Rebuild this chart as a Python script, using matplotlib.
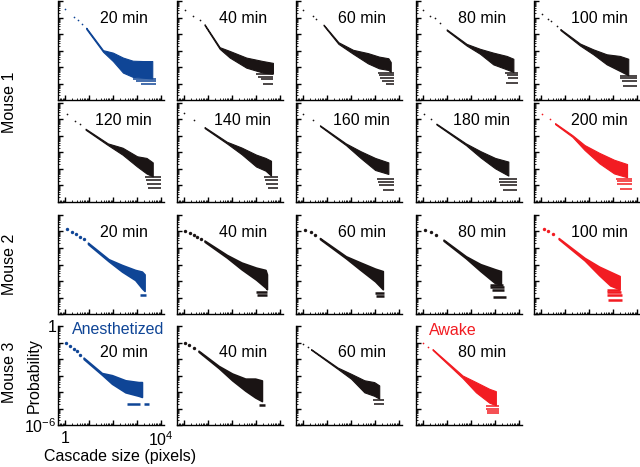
import numpy as np
import matplotlib
matplotlib.use('Agg')
import matplotlib.pyplot as plt
from matplotlib.ticker import LogLocator, FixedLocator, FuncFormatter

plt.rcParams['font.family'] = ['Liberation Sans', 'DejaVu Sans']
plt.rcParams['mathtext.fontset'] = 'custom'
plt.rcParams['mathtext.rm'] = 'Liberation Sans'

# Panels: mouse, recording time (min) and state
mouse = [1] * 10 + [2] * 5 + [3] * 4
minutes = [20, 40, 60, 80, 100, 120, 140, 160, 180, 200,
           20, 40, 60, 80, 100,
           20, 40, 60, 80]
state = ['anes'] + ['mid'] * 8 + ['awake'] + ['anes'] + ['mid'] * 3 + ['awake'] + ['anes', 'mid', 'mid', 'awake']

# Values, all in log10 units (size in pixels, probability)
# head: isolated dots at the smallest cascade sizes
head_lx = [[0.0, 0.35, 0.53, 0.71], [0.02, 0.37, 0.64], [0.01, 0.39, 0.55], [0.0, 0.28, 0.49, 0.7],
           [0.02, 0.3, 0.4, 0.64], [0.08, 0.42, 0.62], [0.01, 0.42], [0.01, 0.39], [0.05, 0.32], [0.04, 0.35],
           [0.08, 0.28, 0.45, 0.63, 0.77], [0.05, 0.26, 0.4, 0.55, 0.7], [0.08, 0.31, 0.5], [0.08, 0.32, 0.55],
           [0.12, 0.27, 0.5],
           [0.03, 0.21, 0.35, 0.49, 0.63], [0.05, 0.21, 0.39], [0.0, 0.19], [0.0, 0.19]]
head_ly = [[-0.5, -0.95, -1.17, -1.37], [-0.57, -0.91, -1.15], [-0.57, -0.92, -1.1], [-0.57, -0.91, -1.05, -1.31],
           [-0.77, -1.11, -1.2, -1.52], [-0.67, -1.08, -1.29], [-0.63, -1.04], [-0.67, -1.04], [-0.67, -1.0],
           [-0.67, -1.0],
           [-0.87, -1.01, -1.15, -1.31, -1.47], [-0.95, -1.11, -1.22, -1.33, -1.48], [-0.9, -1.04, -1.21],
           [-0.9, -1.04, -1.21], [-0.83, -1.0, -1.17],
           [-1.04, -1.21, -1.38, -1.52, -1.73], [-1.04, -1.17, -1.31], [-1.1, -1.25], [-1.04, -1.25]]

# body: dense cloud, upper and lower envelope
body_lx = [[0.88, 1.58, 1.99, 2.41, 2.82, 3.24, 3.63], [0.85, 1.48, 1.9, 2.59, 3.28, 3.7],
           [0.85, 1.47, 2.08, 2.7, 3.16, 3.55, 3.65], [0.98, 1.81, 2.37, 2.92, 3.48, 3.76],
           [0.8, 1.62, 2.17, 2.73, 3.28, 3.63], [0.85, 1.78, 2.39, 3.0, 3.39, 3.65],
           [0.85, 1.78, 2.39, 3.0, 3.39, 3.62], [0.7, 1.78, 2.39, 3.0, 3.55], [0.55, 1.78, 2.39, 3.0, 3.55],
           [0.58, 1.3, 1.81, 2.42, 3.04, 3.58],
           [0.95, 1.81, 2.37, 2.92, 3.2, 3.31], [0.85, 1.78, 2.39, 3.0, 3.39, 3.45], [0.7, 1.78, 2.39, 3.0, 3.32],
           [0.85, 1.78, 2.39, 3.0, 3.24], [0.73, 1.81, 2.42, 2.88, 3.27],
           [0.77, 1.53, 1.95, 2.51, 3.06, 3.2], [0.6, 1.44, 2.0, 2.55, 2.96, 3.24],
           [0.33, 1.44, 2.0, 2.55, 2.96, 3.17], [0.39, 1.64, 2.2, 2.76, 3.03]]
body_hi = [[-1.62, -2.98, -3.13, -3.43, -3.62, -3.64, -3.64], [-1.41, -2.8, -3.03, -3.43, -3.64, -3.75],
           [-1.43, -2.5, -2.96, -3.16, -3.37, -3.47, -3.7], [-1.72, -2.6, -2.9, -3.13, -3.33, -3.5],
           [-1.7, -2.58, -2.93, -3.23, -3.33, -3.5], [-1.56, -2.45, -2.71, -3.23, -3.33, -3.6],
           [-1.46, -2.35, -2.7, -3.13, -3.33, -3.5], [-1.35, -2.45, -2.92, -3.33, -3.6],
           [-1.25, -2.45, -2.92, -3.33, -3.55], [-1.22, -1.95, -2.55, -3.02, -3.44, -3.7],
           [-1.68, -2.68, -3.03, -3.33, -3.43, -3.6], [-1.55, -2.42, -2.88, -3.19, -3.33, -3.6],
           [-1.4, -2.5, -2.88, -3.25, -3.4], [-1.5, -2.5, -2.98, -3.29, -3.4], [-1.4, -2.6, -3.13, -3.44, -3.7],
           [-1.92, -2.85, -2.98, -3.29, -3.4, -3.4], [-1.5, -2.42, -2.88, -3.19, -3.19, -3.3],
           [-1.4, -2.52, -2.9, -3.29, -3.4, -3.6], [-1.4, -3.0, -3.4, -3.81, -3.95]]
body_lo = [[-1.7, -3.08, -3.64, -4.34, -4.6, -4.65, -4.69], [-1.47, -2.9, -3.43, -4.04, -4.34, -4.4],
           [-1.48, -2.6, -3.2, -3.78, -4.08, -4.18, -4.3], [-1.78, -2.7, -3.2, -3.84, -4.14, -4.3],
           [-1.76, -2.7, -3.23, -3.84, -4.24, -4.5], [-1.62, -2.55, -3.13, -3.85, -4.27, -4.45],
           [-1.52, -2.45, -3.1, -3.85, -4.1, -4.4], [-1.4, -2.55, -3.33, -4.06, -4.3],
           [-1.3, -2.55, -3.3, -3.96, -4.4], [-1.28, -2.05, -2.85, -3.65, -4.27, -4.5],
           [-1.76, -2.8, -3.43, -3.94, -4.44, -4.6], [-1.62, -2.58, -3.29, -3.92, -4.4, -4.5],
           [-1.46, -2.62, -3.33, -4.02, -4.5], [-1.56, -2.62, -3.4, -4.13, -4.2], [-1.46, -2.75, -3.65, -4.27, -4.5],
           [-2.0, -2.95, -3.5, -4.02, -4.23, -4.3], [-1.56, -2.55, -3.29, -3.92, -4.33, -4.55],
           [-1.44, -2.6, -3.2, -4.02, -4.23, -4.4], [-1.45, -3.15, -4.02, -4.65, -4.8]]

# stripes: discrete low-count probability levels in the tail
stripe_ly = [[-4.75, -4.87, -5.0], [-4.45, -4.58, -4.72, -5.0], [-4.35, -4.48, -4.65, -4.84, -5.06],
             [-4.34, -4.48, -4.65, -4.95], [-4.55, -4.69, -4.85, -5.15], [-4.48, -4.69, -4.9, -5.17],
             [-4.48, -4.69, -4.9, -5.17], [-4.58, -4.79, -5.0, -5.25], [-4.6, -4.79, -5.0, -5.25],
             [-4.6, -4.75, -4.9, -5.2],
             [-4.82], [-4.68, -4.85], [-4.72, -4.92], [-4.23, -4.38, -4.54, -4.96], [-4.54, -4.69, -4.85, -5.13],
             [-4.71, -4.71], [-4.8], [-4.5, -4.71], [-4.85, -5.0, -5.13, -5.27]]
stripe_x0 = [[2.82, 2.95, 3.15], [3.0, 3.07, 3.2, 3.28], [3.1, 3.15, 3.2, 3.3, 3.45], [3.41, 3.48, 3.55, 3.45],
             [3.28, 3.3, 3.35, 3.42], [3.32, 3.38, 3.42, 3.47], [3.32, 3.38, 3.42, 3.5], [3.08, 3.12, 3.18, 3.32],
             [3.16, 3.18, 3.22, 3.32], [3.12, 3.15, 3.18, 3.27],
             [3.13], [3.0, 3.05], [3.0, 3.02], [2.78, 2.8, 2.85, 2.9], [2.73, 2.73, 2.75, 2.8],
             [2.58, 3.3], [3.1], [2.9, 2.95], [2.62, 2.62, 2.65, 2.68]]
stripe_x1 = [[3.8, 3.8, 3.8], [3.72, 3.72, 3.72, 3.72], [3.8, 3.8, 3.8, 3.8, 3.8], [3.96, 3.96, 3.96, 3.96],
             [3.98, 3.98, 3.98, 3.98], [3.98, 3.98, 3.98, 3.98], [3.93, 3.93, 3.93, 3.93], [3.78, 3.78, 3.78, 3.78],
             [3.93, 3.93, 3.93, 3.93], [3.78, 3.78, 3.78, 3.78],
             [3.36], [3.47, 3.47], [3.39, 3.39], [3.32, 3.35, 3.37, 3.47], [3.3, 3.32, 3.35, 3.37],
             [3.13, 3.48], [3.38], [3.38, 3.38], [3.17, 3.17, 3.17, 3.17]]

colors = {'anes': '#0f4596', 'mid': '#1a1414', 'awake': '#f21c22'}

# layout in pixels (figure 640 x 467)
W, H = 640, 467
col_left = [58, 177, 296, 416, 534]
row_top = [1, 103, 215, 326]
pw, ph = 106, 99


def panel_pos(i):
    if i < 10:
        r, c = i // 5, i % 5
    elif i < 15:
        r, c = 2, i - 10
    else:
        r, c = 3, i - 15
    return r, c


fig = plt.figure(figsize=(6.4, 4.67), dpi=100)

for i in range(len(minutes)):
    r, c = panel_pos(i)
    ax = fig.add_axes([col_left[c] / W, 1 - (row_top[r] + ph) / H, pw / W, ph / H])
    col = colors[state[i]]
    big = mouse[i] == 2 or (mouse[i] == 3 and i < 17)
    dot = 6 if big else 1.5
    lw_stripe = 1.8 if big else 1.1

    ax.scatter(10 ** np.array(head_lx[i]), 10 ** np.array(head_ly[i]), s=dot, color=col, lw=0)
    bx = 10 ** np.array(body_lx[i])
    ax.fill_between(bx, 10 ** np.array(body_lo[i]), 10 ** np.array(body_hi[i]),
                    facecolor=col, edgecolor=col, lw=1.2 if big else 0.8)
    ax.hlines(10 ** np.array(stripe_ly[i]), 10 ** np.array(stripe_x0[i]), 10 ** np.array(stripe_x1[i]),
              color=col, lw=lw_stripe)

    ax.set_xscale('log')
    ax.set_yscale('log')
    ax.set_xlim(10 ** -0.3, 10 ** 4.12)
    ax.set_ylim(1e-6, 1)
    for s in ['top', 'right']:
        ax.spines[s].set_visible(False)
    for s in ['left', 'bottom']:
        ax.spines[s].set_linewidth(1.0)
    ax.xaxis.set_major_locator(FixedLocator([1, 10, 100, 1000, 10000]))
    ax.xaxis.set_minor_locator(LogLocator(base=10, subs=np.arange(2, 10), numticks=20))
    ax.yaxis.set_major_locator(FixedLocator([1e-6, 1e-5, 1e-4, 1e-3, 1e-2, 1e-1, 1]))
    ax.yaxis.set_minor_locator(LogLocator(base=10, subs=np.arange(2, 10), numticks=20))
    ax.tick_params(which='major', direction='in', length=3.5, width=1.0, pad=1)
    ax.tick_params(which='minor', direction='in', length=1.8, width=0.6)
    ax.tick_params(which='minor', axis='y', length=1.2)

    if r == 3 and c == 0:
        ax.xaxis.set_major_formatter(FuncFormatter(
            lambda v, p: '1' if v == 1 else (r'$10^4$' if v == 10000 else '')))
        ax.yaxis.set_major_formatter(FuncFormatter(
            lambda v, p: '1' if v == 1 else (r'$10^{-6}$' if v == 1e-6 else '')))
        ax.tick_params(axis='x', which='major', labelsize=11.5, pad=4)
        ax.tick_params(axis='y', which='major', labelsize=11.5, pad=1)
        ax.set_xlabel('Cascade size (pixels)', fontsize=11.5)
        ax.xaxis.set_label_coords(0.59, -0.245)
        ax.set_ylabel('Probability', fontsize=11.5)
        ax.yaxis.set_label_coords(-0.155, 0.5)
    else:
        ax.set_xticklabels([])
        ax.set_yticklabels([])
    ax.xaxis.set_minor_formatter(FuncFormatter(lambda v, p: ''))
    ax.yaxis.set_minor_formatter(FuncFormatter(lambda v, p: ''))

    ty = 0.73 if r == 3 else 0.82
    ax.text(0.62, ty, f'{minutes[i]} min', transform=ax.transAxes, ha='center', va='center', fontsize=11.5)
    if r == 3 and c == 0:
        ax.text(0.13, 0.96, 'Anesthetized', transform=ax.transAxes, ha='left', va='center',
                fontsize=11.5, color=colors['anes'])
    if r == 3 and c == 3:
        ax.text(0.12, 0.95, 'Awake', transform=ax.transAxes, ha='left', va='center',
                fontsize=11.5, color=colors['awake'])

fig.text(10 / W, 1 - 102 / H, 'Mouse 1', rotation=90, ha='center', va='center', fontsize=11.5)
fig.text(10 / W, 1 - 264 / H, 'Mouse 2', rotation=90, ha='center', va='center', fontsize=11.5)
fig.text(10 / W, 1 - 372 / H, 'Mouse 3', rotation=90, ha='center', va='center', fontsize=11.5)

fig.savefig('out.png', dpi=100)
